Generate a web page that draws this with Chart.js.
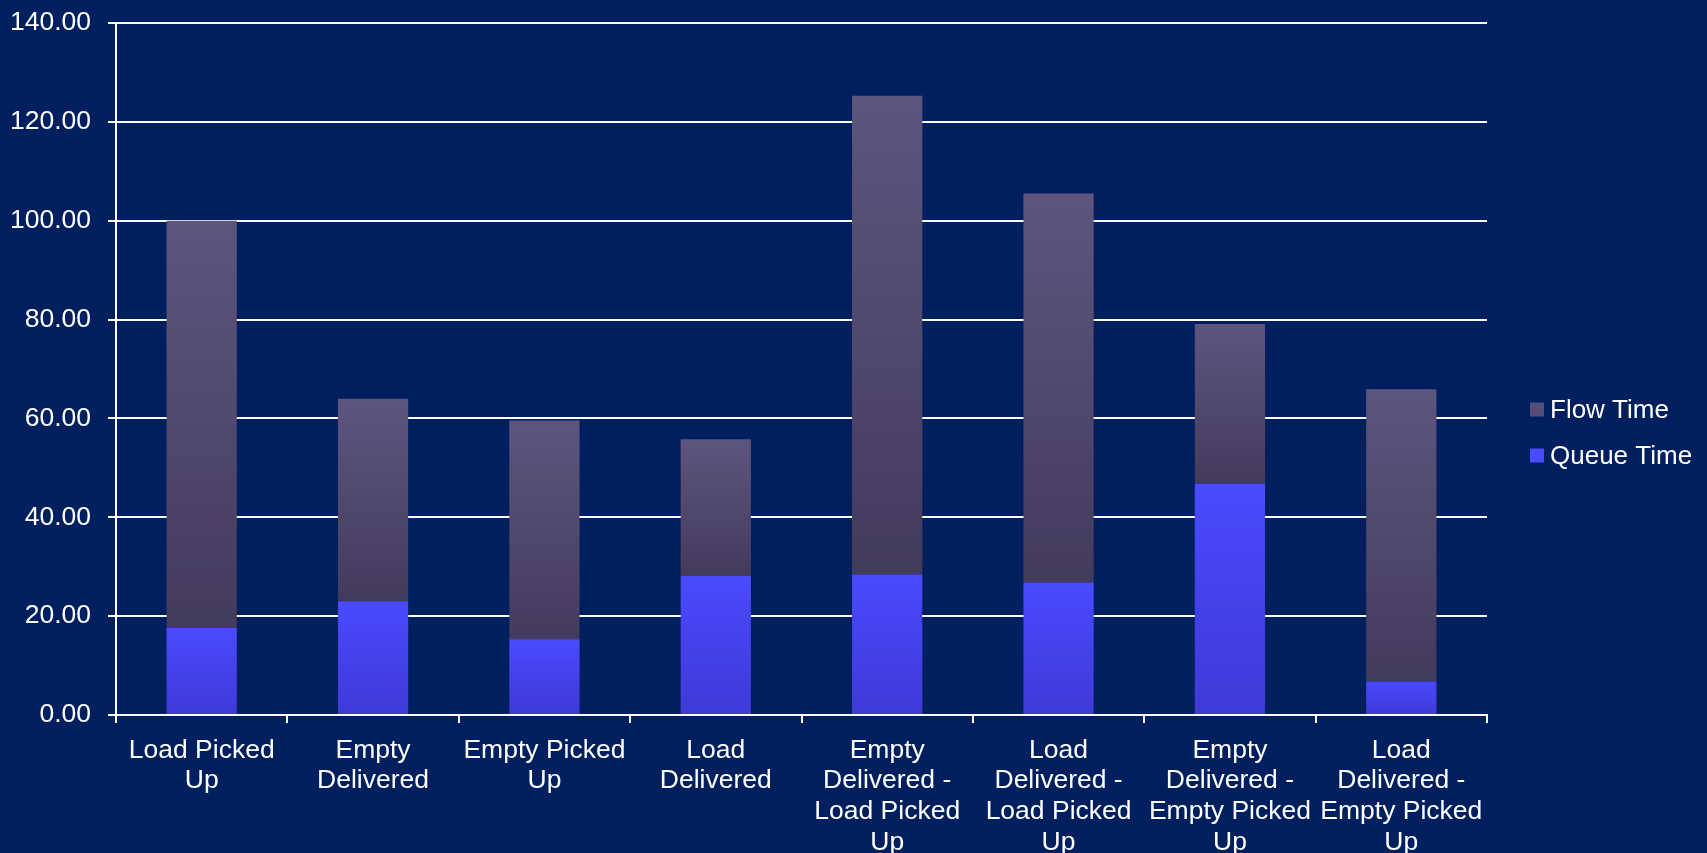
<!DOCTYPE html>
<html>
<head>
<meta charset="utf-8">
<script src="https://cdn.jsdelivr.net/npm/chart.js@4/dist/chart.umd.min.js"></script>
<style>
html,body{margin:0;padding:0;background:#001F5F;}
#wrap{position:relative;width:1707px;height:853px;}
</style>
</head>
<body>
<div id="wrap"><canvas id="c" width="1707" height="853"></canvas></div>
<script>
const categories = [
  ["Load Picked","Up"],
  ["Empty","Delivered"],
  ["Empty Picked","Up"],
  ["Load","Delivered"],
  ["Empty","Delivered -","Load Picked","Up"],
  ["Load","Delivered -","Load Picked","Up"],
  ["Empty","Delivered -","Empty Picked","Up"],
  ["Load","Delivered -","Empty Picked","Up"]
];
const seriesNames = ["Queue Time", "Flow Time"];
const queueTime = [17.6, 23.0, 15.3, 28.1, 28.4, 26.8, 46.8, 6.8];
const flowTime  = [82.4, 41.0, 44.3, 27.7, 96.9, 78.7, 32.3, 59.1];
const yTicks = [0, 20, 40, 60, 80, 100, 120, 140];

const FONT = "'Liberation Sans', Arial, sans-serif";
const legendSwatch = ['#4A4AFF', '#564E76'];

function grad(ctx, bottomVals, topVals, cTop, cBot, solid) {
  const chart = ctx.chart;
  if (!chart.chartArea || ctx.dataIndex === undefined) return solid;
  const y = chart.scales.y;
  const i = ctx.dataIndex;
  const b = bottomVals ? bottomVals[i] : 0;
  const t = b + topVals[i];
  const py0 = y.getPixelForValue(t), py1 = y.getPixelForValue(b);
  if (!isFinite(py0) || !isFinite(py1) || py0 === py1) return solid;
  const g = chart.ctx.createLinearGradient(0, py0, 0, py1);
  g.addColorStop(0, cTop);
  g.addColorStop(1, cBot);
  return g;
}

// Legend drawn at the right, reversed order (Flow Time above Queue Time)
const sideLegend = {
  id: 'sideLegend',
  afterDraw(chart) {
    const c = chart.ctx;
    const ds = chart.data.datasets;
    const order = ds.map((d, i) => i).reverse();
    const x0 = chart.chartArea.right + 43;
    const spacing = 46;
    const startY = chart.height / 2 - 17;
    c.save();
    c.font = "26px " + FONT;
    c.textBaseline = 'middle';
    c.textAlign = 'left';
    order.forEach((di, k) => {
      const cy = startY + k * spacing;
      c.fillStyle = legendSwatch[di];
      c.fillRect(x0, cy - 7, 14, 14);
      c.fillStyle = '#FFFFFF';
      c.fillText(ds[di].label, x0 + 20, cy + 1);
    });
    c.restore();
  }
};

new Chart(document.getElementById('c'), {
  type: 'bar',
  data: {
    labels: categories,
    datasets: [
      {
        label: seriesNames[0],
        data: queueTime,
        backgroundColor: (ctx) => grad(ctx, null, queueTime, '#4A4AFF', '#3F39D6', '#4646F0'),
        borderWidth: 0,
        barPercentage: 0.41,
        categoryPercentage: 1.0
      },
      {
        label: seriesNames[1],
        data: flowTime,
        backgroundColor: (ctx) => grad(ctx, queueTime, flowTime, '#5E557F', '#433B5C', '#524A70'),
        borderWidth: 0,
        barPercentage: 0.41,
        categoryPercentage: 1.0
      }
    ]
  },
  plugins: [sideLegend],
  options: {
    responsive: false,
    animation: false,
    devicePixelRatio: 1,
    layout: { padding: { top: 23, right: 220, bottom: 0, left: 0 } },
    plugins: {
      tooltip: { enabled: false },
      legend: { display: false }
    },
    scales: {
      x: {
        stacked: true,
        border: { display: true, color: '#FFFFFF', width: 2 },
        grid: { display: true, offset: true, drawOnChartArea: false, drawTicks: true, tickLength: 8, color: '#FFFFFF', lineWidth: 2 },
        ticks: { color: '#FFFFFF', font: { family: FONT, size: 26.5, lineHeight: 1.16 }, maxRotation: 0, minRotation: 0, autoSkip: false, padding: 12 },
        afterFit: (s) => { s.height = 138; s.paddingLeft = 0; s.paddingRight = 0; }
      },
      y: {
        stacked: true,
        min: 0, max: 140,
        afterBuildTicks: (s) => { s.ticks = yTicks.map(v => ({ value: v })); },
        border: { display: true, color: '#FFFFFF', width: 2 },
        grid: { color: '#FFFFFF', lineWidth: 2, drawTicks: true, tickLength: 8 },
        ticks: {
          color: '#FFFFFF',
          font: { family: FONT, size: 26.5 },
          padding: 17,
          callback: (v) => Number(v).toFixed(2)
        },
        afterFit: (s) => { s.width = 116; s.paddingTop = 0; s.paddingBottom = 0; }
      }
    }
  }
});
</script>
</body>
</html>
